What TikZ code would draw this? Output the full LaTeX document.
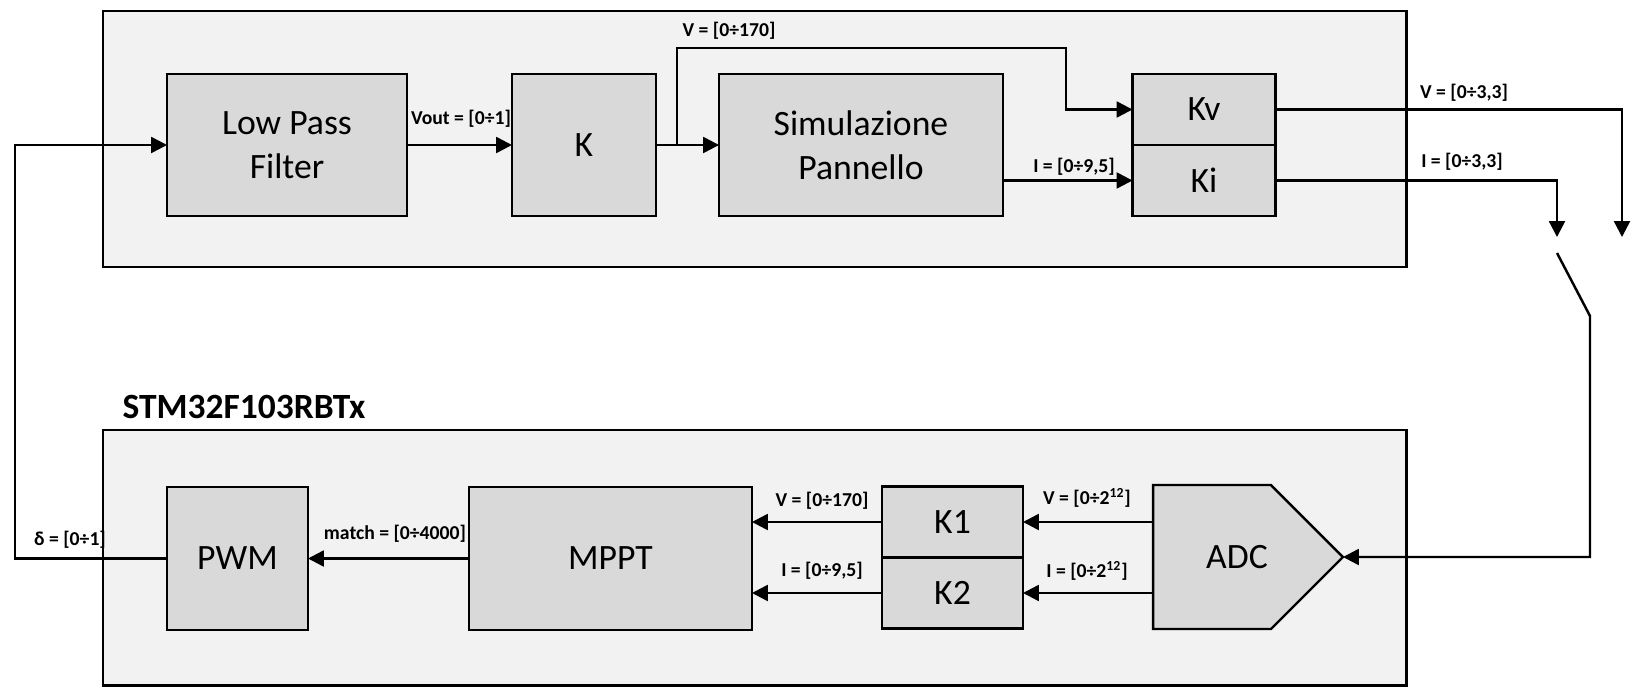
\documentclass[tikz,border=0pt]{standalone}
\usepackage{fontspec}
\setmainfont{Carlito}
\usetikzlibrary{arrows.meta,shapes.symbols,positioning}

\begin{document}
\begin{tikzpicture}[x=0.02cm, y=-0.02cm,
    panel/.style = {draw, line width=1.7pt, fill=black!5},
    block/.style = {draw, line width=1.4pt, fill=black!15, align=center, inner sep=0pt, outer sep=0pt, font=\fontsize{20.3}{25}\selectfont},
    wire/.style = {line width=1.4pt},
    arr/.style = {wire, -{Triangle[length=9pt, width=9pt]}},
    lbl/.style = {inner sep=1pt, font=\fontsize{11.2}{13}\selectfont\bfseries}]
    \useasboundingbox (0,0) rectangle (1633,693);
    \draw[panel] (103,11) rectangle (1406,267);
    \draw[panel] (103,430) rectangle (1406,685);
    \node[font=\fontsize{20.2}{24}\selectfont\bfseries] (mcu) at (244,407) {STM32F103RBTx};

    % pannello simulato
    \node[block, minimum width=4.8cm, minimum height=2.84cm] (lpf) at (287,145) {Low Pass\\Filter};
    \node[block, minimum width=2.88cm, minimum height=2.84cm] (k) at (584,145) {K};
    \node[block, minimum width=5.68cm, minimum height=2.84cm] (sim) at (861,145) {Simulazione\\Pannello};
    \node[block, minimum width=2.86cm, minimum height=1.42cm] (kv) at (1204,109.5) {Kv};
    \node[block, minimum width=2.86cm, minimum height=1.42cm] (ki) [below=0pt of kv] {Ki};

    % microcontrollore
    \node[block, minimum width=2.82cm, minimum height=2.86cm] (pwm) at (237.5,558.5) {PWM};
    \node[block, minimum width=5.66cm, minimum height=2.86cm] (mppt) at (610.5,558.5) {MPPT};
    \node[block, minimum width=2.82cm, minimum height=1.42cm] (k1) at (952.5,522) {K1};
    \node[block, minimum width=2.82cm, minimum height=1.42cm] (k2) [below=0pt of k1] {K2};
    \node[block, shape=signal, signal to=east, signal pointer angle=90, minimum width=3.8cm, minimum height=2.88cm] (adc) at (1212,557) {\hspace*{1cm}ADC};

    % selettore
    \coordinate (swi) at (1557,237);
    \coordinate (swv) at (1622,237);
    \coordinate (swa) at (1557,253);
    \coordinate (swb) at (1590,316);

    \draw[arr] (lpf) -- (k);
    \draw[arr] (k) -- (sim);
    \draw[arr] (k.east) ++(21,0) |- ++(389,-97) |- (kv.west);
    \draw[arr] (sim.east |- ki.west) -- (ki.west);
    \draw[arr] (kv.east) -| (swv);
    \draw[arr] (ki.east) -| (swi);
    \draw[arr] (swa) -- (swb) |- (adc.east);
    \draw[arr] (adc.west |- k1.east) -- (k1.east);
    \draw[arr] (adc.west |- k2.east) -- (k2.east);
    \draw[arr] (k1.west) -- (mppt.east |- k1.west);
    \draw[arr] (k2.west) -- (mppt.east |- k2.west);
    \draw[arr] (mppt) -- (pwm);
    \draw[arr] (pwm.west) -- ++(-152,0) |- (lpf.west);

    \node[lbl] (l1) at (461,119) {Vout = [0÷1]};
    \node[lbl] (l2) at (729,31) {V = [0÷170]};
    \node[lbl] (l3) at (1074,167) {I = [0÷9,5]};
    \node[lbl] (l4) at (1464,93) {V = [0÷3,3]};
    \node[lbl] (l5) at (1462,162) {I = [0÷3,3]};
    \node[lbl] (l6) at (70,540) {δ = [0÷1]};
    \node[lbl] (l7) at (395,534) {match = [0÷4000]};
    \node[lbl] (l8) at (822,501) {V = [0÷170]};
    \node[lbl] (l9) at (822,571) {I = [0÷9,5]};
    \node[lbl] (l10) at (1087,498) {V = [0÷2\textsuperscript{12}]};
    \node[lbl] (l11) at (1087,571) {I = [0÷2\textsuperscript{12}]};
\end{tikzpicture}
\end{document}
